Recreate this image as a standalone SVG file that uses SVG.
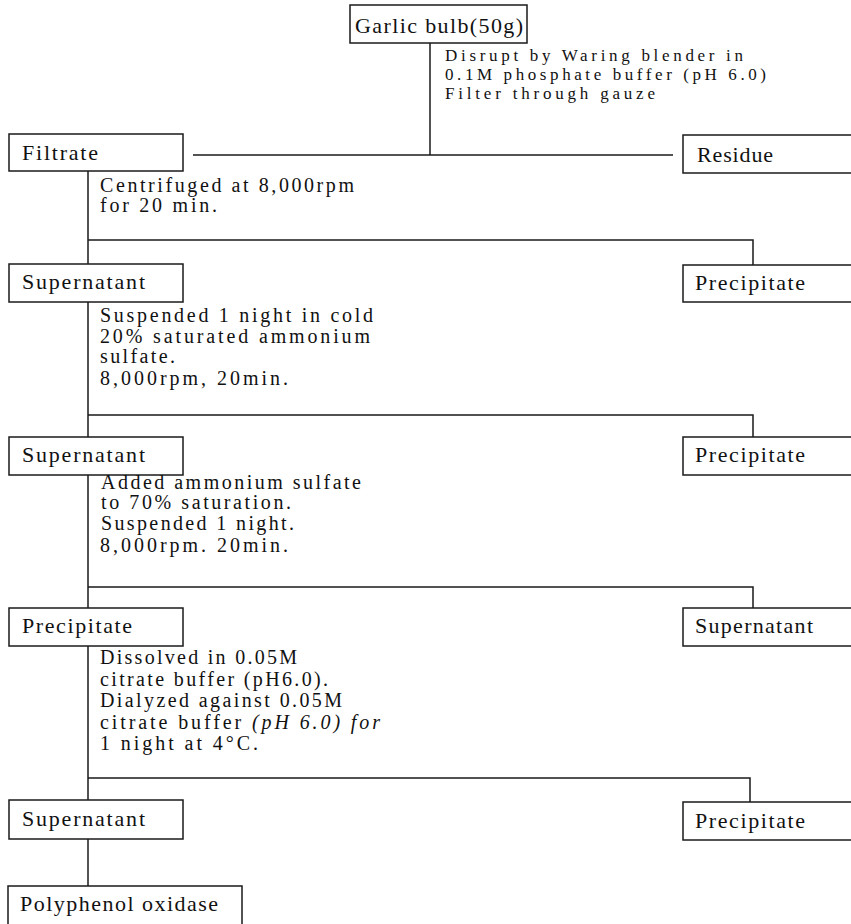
<svg xmlns="http://www.w3.org/2000/svg" width="851" height="924" viewBox="0 0 851 924">
<style>
.box{fill:none;stroke:#1a1a1a;stroke-width:1.5}
.ln{fill:none;stroke:#1a1a1a;stroke-width:1.5}
text{font-family:"Liberation Serif","Times New Roman",serif;fill:#111}
.lbl{font-size:22px}
.p{font-size:20px}
.ps{font-size:17px}
.it{font-style:italic}
</style>
<rect width="851" height="924" fill="#fff"/>
<g id="connectors">
<path class="ln" d="M430,43 V155"/>
<path class="ln" d="M193,155 H673"/>
<path class="ln" d="M88,171 V264 M88,240 H753 V265"/>
<path class="ln" d="M88,302 V437 M88,415 H753 V437"/>
<path class="ln" d="M88,475 V608 M88,587 H753 V608"/>
<path class="ln" d="M88,646 V800 M88,778 H750 V802"/>
<path class="ln" d="M88,839 V886"/>
</g>
<g id="garlic"><rect class="box" x="350" y="5" width="177" height="38"/><text class="lbl" x="355" y="33" textLength="168" lengthAdjust="spacing">Garlic bulb(50g)</text></g>
<g id="step1">
<text class="ps" x="445" y="61" textLength="298" lengthAdjust="spacing">Disrupt by Waring blender in</text>
<text class="ps" x="445" y="80" textLength="321" lengthAdjust="spacing">0.1M phosphate buffer (pH 6.0)</text>
<text class="ps" x="445" y="99" textLength="210" lengthAdjust="spacing">Filter through gauze</text>
</g>
<g id="filtrate"><rect class="box" x="9" y="134" width="174" height="37"/><text class="lbl" x="22" y="160" textLength="76" lengthAdjust="spacing">Filtrate</text></g>
<g id="residue"><rect class="box" x="683" y="135" width="200" height="38"/><text class="lbl" x="697" y="162" textLength="76" lengthAdjust="spacing">Residue</text></g>
<g id="step2">
<text class="p" x="100" y="192" textLength="254" lengthAdjust="spacing">Centrifuged at 8,000rpm</text>
<text class="p" x="100" y="212" textLength="117" lengthAdjust="spacing">for 20 min.</text>
</g>
<g id="supernatant1"><rect class="box" x="9" y="264" width="174" height="38"/><text class="lbl" x="22" y="289" textLength="123" lengthAdjust="spacing">Supernatant</text></g>
<g id="precipitate1"><rect class="box" x="683" y="265" width="200" height="37"/><text class="lbl" x="695" y="290" textLength="110" lengthAdjust="spacing">Precipitate</text></g>
<g id="step3">
<text class="p" x="100" y="322" textLength="273" lengthAdjust="spacing">Suspended 1 night in cold</text>
<text class="p" x="100" y="343" textLength="270" lengthAdjust="spacing">20% saturated ammonium</text>
<text class="p" x="100" y="363" textLength="75" lengthAdjust="spacing">sulfate.</text>
<text class="p" x="100" y="385" textLength="188" lengthAdjust="spacing">8,000rpm, 20min.</text>
</g>
<g id="supernatant2"><rect class="box" x="9" y="437" width="174" height="38"/><text class="lbl" x="22" y="462" textLength="123" lengthAdjust="spacing">Supernatant</text></g>
<g id="precipitate2"><rect class="box" x="683" y="437" width="200" height="38"/><text class="lbl" x="695" y="462" textLength="110" lengthAdjust="spacing">Precipitate</text></g>
<g id="step4">
<text class="p" x="101" y="489" textLength="260" lengthAdjust="spacing">Added ammonium sulfate</text>
<text class="p" x="101" y="509" textLength="190" lengthAdjust="spacing">to 70% saturation.</text>
<text class="p" x="101" y="530" textLength="193" lengthAdjust="spacing">Suspended 1 night.</text>
<text class="p" x="100" y="552" textLength="188" lengthAdjust="spacing">8,000rpm. 20min.</text>
</g>
<g id="precipitate3"><rect class="box" x="9" y="608" width="174" height="38"/><text class="lbl" x="22" y="633" textLength="110" lengthAdjust="spacing">Precipitate</text></g>
<g id="supernatant3"><rect class="box" x="683" y="608" width="200" height="38"/><text class="lbl" x="695" y="633" textLength="118" lengthAdjust="spacing">Supernatant</text></g>
<g id="step5">
<text class="p" x="100" y="664" textLength="197" lengthAdjust="spacing">Dissolved in 0.05M</text>
<text class="p" x="100" y="686" textLength="228" lengthAdjust="spacing">citrate buffer (pH6.0).</text>
<text class="p" x="100" y="707" textLength="242" lengthAdjust="spacing">Dialyzed against 0.05M</text>
<text class="p" x="100" y="729" textLength="280" lengthAdjust="spacing">citrate buffer <tspan class="it">(pH 6.0) for</tspan></text>
<text class="p" x="100" y="750" textLength="158" lengthAdjust="spacing">1 night at 4°C.</text>
</g>
<g id="supernatant4"><rect class="box" x="9" y="800" width="174" height="39"/><text class="lbl" x="22" y="826" textLength="123" lengthAdjust="spacing">Supernatant</text></g>
<g id="precipitate4"><rect class="box" x="683" y="802" width="200" height="38"/><text class="lbl" x="695" y="828" textLength="110" lengthAdjust="spacing">Precipitate</text></g>
<g id="ppo"><rect class="box" x="8" y="886" width="234" height="60"/><text class="lbl" x="20" y="911" textLength="198" lengthAdjust="spacing">Polyphenol oxidase</text></g>
</svg>
